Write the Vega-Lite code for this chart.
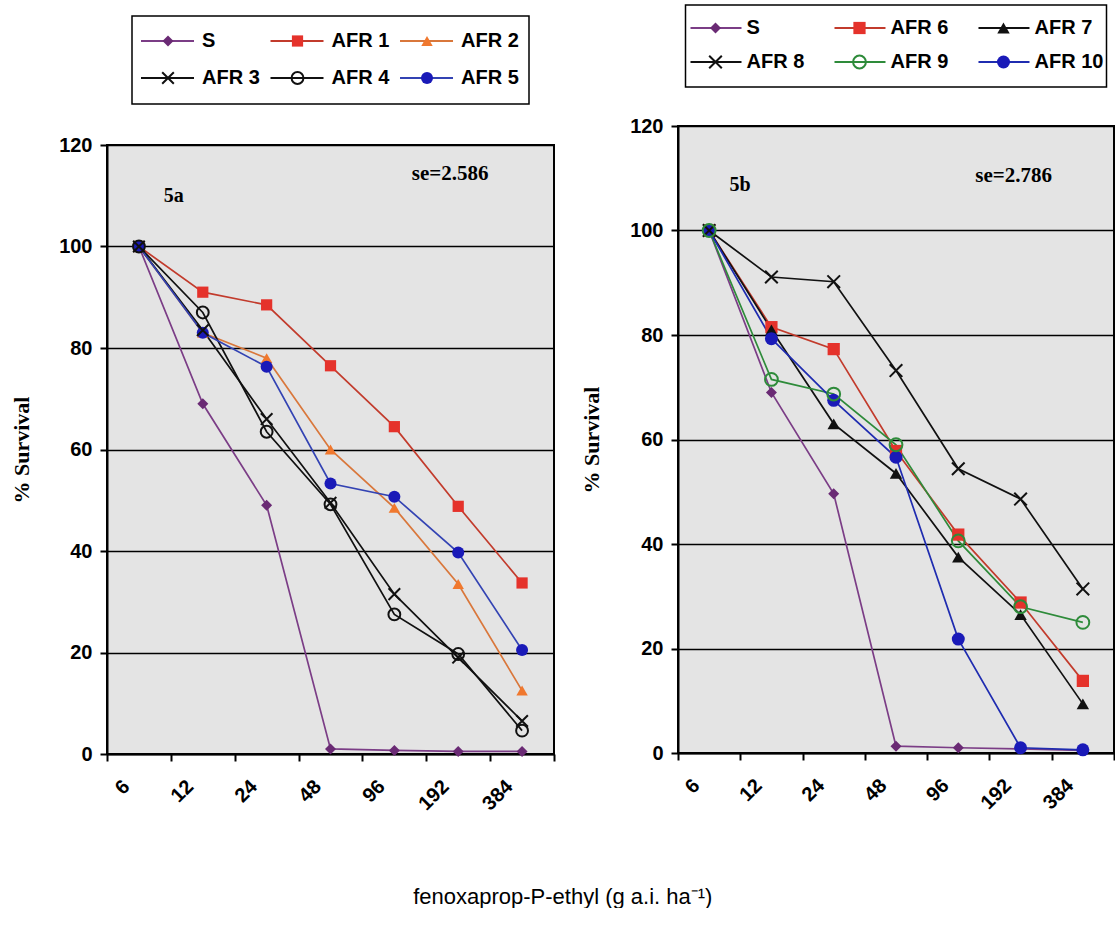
{
  "$schema": "https://vega.github.io/schema/vega-lite/v6.json",
  "padding": {"left": 9, "top": 4, "right": 0, "bottom": 0},
  "background": "white",
  "title": {"text": "fenoxaprop-P-ethyl (g a.i. ha⁻¹)", "orient": "bottom", "anchor": "middle", "offset": 72, "font": "Liberation Sans", "fontSize": 22, "fontWeight": "normal", "color": "black"},
  "datasets": {
    "a": [
      {"series": "S", "dose": "6", "value": 100}, {"series": "S", "dose": "12", "value": 69}, {"series": "S", "dose": "24", "value": 49}, {"series": "S", "dose": "48", "value": 1}, {"series": "S", "dose": "96", "value": 0.7}, {"series": "S", "dose": "192", "value": 0.5}, {"series": "S", "dose": "384", "value": 0.5},
      {"series": "AFR 1", "dose": "6", "value": 100}, {"series": "AFR 1", "dose": "12", "value": 91}, {"series": "AFR 1", "dose": "24", "value": 88.5}, {"series": "AFR 1", "dose": "48", "value": 76.5}, {"series": "AFR 1", "dose": "96", "value": 64.5}, {"series": "AFR 1", "dose": "192", "value": 48.8}, {"series": "AFR 1", "dose": "384", "value": 33.7},
      {"series": "AFR 2", "dose": "6", "value": 100}, {"series": "AFR 2", "dose": "12", "value": 83}, {"series": "AFR 2", "dose": "24", "value": 78}, {"series": "AFR 2", "dose": "48", "value": 60}, {"series": "AFR 2", "dose": "96", "value": 48.5}, {"series": "AFR 2", "dose": "192", "value": 33.5}, {"series": "AFR 2", "dose": "384", "value": 12.5},
      {"series": "AFR 3", "dose": "6", "value": 100}, {"series": "AFR 3", "dose": "12", "value": 83.5}, {"series": "AFR 3", "dose": "24", "value": 66}, {"series": "AFR 3", "dose": "48", "value": 49.5}, {"series": "AFR 3", "dose": "96", "value": 31.5}, {"series": "AFR 3", "dose": "192", "value": 19}, {"series": "AFR 3", "dose": "384", "value": 6.5},
      {"series": "AFR 4", "dose": "6", "value": 100}, {"series": "AFR 4", "dose": "12", "value": 87}, {"series": "AFR 4", "dose": "24", "value": 63.5}, {"series": "AFR 4", "dose": "48", "value": 49.2}, {"series": "AFR 4", "dose": "96", "value": 27.5}, {"series": "AFR 4", "dose": "192", "value": 19.7}, {"series": "AFR 4", "dose": "384", "value": 4.6},
      {"series": "AFR 5", "dose": "6", "value": 100}, {"series": "AFR 5", "dose": "12", "value": 83}, {"series": "AFR 5", "dose": "24", "value": 76.3}, {"series": "AFR 5", "dose": "48", "value": 53.3}, {"series": "AFR 5", "dose": "96", "value": 50.7}, {"series": "AFR 5", "dose": "192", "value": 39.7}, {"series": "AFR 5", "dose": "384", "value": 20.5}
    ],
    "b": [
      {"series": "S", "dose": "6", "value": 100}, {"series": "S", "dose": "12", "value": 69}, {"series": "S", "dose": "24", "value": 49.6}, {"series": "S", "dose": "48", "value": 1.3}, {"series": "S", "dose": "96", "value": 1}, {"series": "S", "dose": "192", "value": 0.8}, {"series": "S", "dose": "384", "value": 0.5},
      {"series": "AFR 6", "dose": "6", "value": 100}, {"series": "AFR 6", "dose": "12", "value": 81.5}, {"series": "AFR 6", "dose": "24", "value": 77.3}, {"series": "AFR 6", "dose": "48", "value": 57.8}, {"series": "AFR 6", "dose": "96", "value": 41.8}, {"series": "AFR 6", "dose": "192", "value": 28.8}, {"series": "AFR 6", "dose": "384", "value": 13.8},
      {"series": "AFR 7", "dose": "6", "value": 100}, {"series": "AFR 7", "dose": "12", "value": 81}, {"series": "AFR 7", "dose": "24", "value": 63}, {"series": "AFR 7", "dose": "48", "value": 53.5}, {"series": "AFR 7", "dose": "96", "value": 37.5}, {"series": "AFR 7", "dose": "192", "value": 26.5}, {"series": "AFR 7", "dose": "384", "value": 9.4},
      {"series": "AFR 8", "dose": "6", "value": 100}, {"series": "AFR 8", "dose": "12", "value": 91.1}, {"series": "AFR 8", "dose": "24", "value": 90.2}, {"series": "AFR 8", "dose": "48", "value": 73.2}, {"series": "AFR 8", "dose": "96", "value": 54.4}, {"series": "AFR 8", "dose": "192", "value": 48.6}, {"series": "AFR 8", "dose": "384", "value": 31.4},
      {"series": "AFR 9", "dose": "6", "value": 100}, {"series": "AFR 9", "dose": "12", "value": 71.5}, {"series": "AFR 9", "dose": "24", "value": 68.7}, {"series": "AFR 9", "dose": "48", "value": 59}, {"series": "AFR 9", "dose": "96", "value": 40.6}, {"series": "AFR 9", "dose": "192", "value": 28}, {"series": "AFR 9", "dose": "384", "value": 25},
      {"series": "AFR 10", "dose": "6", "value": 100}, {"series": "AFR 10", "dose": "12", "value": 79.3}, {"series": "AFR 10", "dose": "24", "value": 67.5}, {"series": "AFR 10", "dose": "48", "value": 56.6}, {"series": "AFR 10", "dose": "96", "value": 21.8}, {"series": "AFR 10", "dose": "192", "value": 1}, {"series": "AFR 10", "dose": "384", "value": 0.6}
    ],
    "legA": [
      {"series": "S", "col": 0, "row": 0}, {"series": "AFR 1", "col": 1, "row": 0}, {"series": "AFR 2", "col": 2, "row": 0},
      {"series": "AFR 3", "col": 0, "row": 1}, {"series": "AFR 4", "col": 1, "row": 1}, {"series": "AFR 5", "col": 2, "row": 1}
    ],
    "legB": [
      {"series": "S", "col": 0, "row": 0}, {"series": "AFR 6", "col": 1, "row": 0}, {"series": "AFR 7", "col": 2, "row": 0},
      {"series": "AFR 8", "col": 0, "row": 1}, {"series": "AFR 9", "col": 1, "row": 1}, {"series": "AFR 10", "col": 2, "row": 1}
    ]
  },
  "spacing": 23,
  "resolve": {"scale": {"x": "independent", "y": "independent"}},
  "hconcat": [
    {
      "bounds": "flush", "center": true, "spacing": 41,
      "resolve": {"scale": {"x": "independent", "y": "independent"}},
      "vconcat": [
        {
          "width": 397, "height": 99,
          "data": {"name": "legA"},
          "view": {"stroke": null},
          "encoding": {
            "x": {"field": "col", "type": "quantitative", "scale": {"domain": [-0.0695, 2.996], "nice": false, "zero": false}, "axis": null},
            "y": {"field": "row", "type": "quantitative", "scale": {"domain": [-0.973, 1.703], "nice": false, "zero": false, "reverse": true}, "axis": null}
          },
          "layer": [
            {"data": {"values": [{"x0": -0.0695, "x1": 2.996, "y0": -0.6757, "y1": 1.703}]}, "mark": {"type": "rect", "fill": "white", "stroke": "black", "strokeWidth": 1.5}, "encoding": {"x": {"field": "x0", "type": "quantitative"}, "x2": {"field": "x1"}, "y": {"field": "y0", "type": "quantitative"}, "y2": {"field": "y1"}}},
            {"mark": {"type": "rule", "x2Offset": 53, "strokeWidth": 1.8}, "encoding": {"x2": {"field": "col"}, "stroke": {"field": "series", "type": "nominal", "scale": {"domain": ["S","AFR 1","AFR 2","AFR 3","AFR 4","AFR 5","AFR 6","AFR 7","AFR 8","AFR 9","AFR 10"], "range": ["#7b3d86","#c23b2c","#d9773b","#111111","#111111","#3343b3","#c23b2c","#111111","#111111","#2e8b3a","#1f2cb0"]}, "legend": null}}},
            {"transform": [{"filter": {"field": "series", "oneOf": ["S","AFR 1","AFR 2","AFR 5","AFR 6","AFR 7","AFR 10"]}}], "mark": {"type": "point", "filled": true, "opacity": 1, "xOffset": 27},
             "encoding": {"color": {"field": "series", "type": "nominal", "scale": {"domain": ["S","AFR 1","AFR 2","AFR 3","AFR 4","AFR 5","AFR 6","AFR 7","AFR 8","AFR 9","AFR 10"], "range": ["#6a2a74","#e5322b","#f0782e","#111111","#111111","#1a1ab8","#e5322b","#111111","#111111","#2e8b3a","#1a1ab8"]}, "legend": null},
                          "shape": {"field": "series", "type": "nominal", "scale": {"domain": ["S","AFR 1","AFR 2","AFR 3","AFR 4","AFR 5","AFR 6","AFR 7","AFR 8","AFR 9","AFR 10"], "range": ["diamond","square","triangle-up","M-1,-1L1,1M-1,1L1,-1","circle","circle","square","triangle-up","M-1,-1L1,1M-1,1L1,-1","circle","circle"]}, "legend": null},
                          "size": {"field": "series", "type": "nominal", "scale": {"domain": ["S","AFR 1","AFR 2","AFR 3","AFR 4","AFR 5","AFR 6","AFR 7","AFR 8","AFR 9","AFR 10"], "range": [121,169,169,144,120,190,169,169,144,120,190]}, "legend": null}}},
            {"transform": [{"filter": {"field": "series", "oneOf": ["AFR 3","AFR 4","AFR 8","AFR 9"]}}], "mark": {"type": "point", "filled": false, "opacity": 1, "strokeWidth": 2, "xOffset": 27},
             "encoding": {"color": {"field": "series", "type": "nominal", "legend": null},
                          "shape": {"field": "series", "type": "nominal", "legend": null},
                          "size": {"field": "series", "type": "nominal", "legend": null}}},
            {"mark": {"type": "text", "xOffset": 61, "align": "left", "baseline": "middle", "font": "Liberation Sans", "fontWeight": "bold", "fontSize": 20, "color": "black"}, "encoding": {"text": {"field": "series"}}}
          ]
        },
        {
          "width": 447, "height": 609,
          "data": {"name": "a"},
          "view": {"stroke": "black", "strokeWidth": 2, "fill": "#e4e4e4"},
          "encoding": {
            "x": {"field": "dose", "type": "ordinal", "sort": ["6","12","24","48","96","192","384"], "bandPosition": 0.5, "scale": {"type": "band", "paddingInner": 0, "paddingOuter": 0}, "axis": {"title": null, "labelAngle": -45, "tickBand": "extent", "grid": false, "labelPadding": 15, "labelOffset": -20}},
            "y": {"field": "value", "type": "quantitative", "scale": {"domain": [0, 120], "nice": false}, "axis": {"values": [0,20,40,60,80,100,120], "title": "% Survival", "titlePadding": 25, "grid": true, "gridColor": "black", "gridWidth": 1.5, "gridOpacity": 1}}
          },
          "layer": [
            {"mark": {"type": "line", "strokeWidth": 1.7}, "encoding": {"stroke": {"field": "series", "type": "nominal", "legend": null}}},
            {"transform": [{"filter": {"field": "series", "oneOf": ["S","AFR 1","AFR 2","AFR 5","AFR 6","AFR 7","AFR 10"]}}], "mark": {"type": "point", "filled": true, "opacity": 1},
             "encoding": {"color": {"field": "series", "type": "nominal", "legend": null}, "shape": {"field": "series", "type": "nominal", "legend": null}, "size": {"field": "series", "type": "nominal", "legend": null}}},
            {"transform": [{"filter": {"field": "series", "oneOf": ["AFR 3","AFR 4","AFR 8","AFR 9"]}}], "mark": {"type": "point", "filled": false, "opacity": 1, "strokeWidth": 2},
             "encoding": {"color": {"field": "series", "type": "nominal", "legend": null}, "shape": {"field": "series", "type": "nominal", "legend": null}, "size": {"field": "series", "type": "nominal", "legend": null}}},
            {"data": {"values": [{"label": "5a", "dose": "12", "value": 110}]}, "mark": {"type": "text", "dx": -29, "font": "Liberation Serif", "fontWeight": "bold", "fontSize": 20, "color": "black", "baseline": "middle"}, "encoding": {"text": {"field": "label"}}},
            {"data": {"values": [{"label": "se=2.586", "dose": "192", "value": 114.3}]}, "mark": {"type": "text", "dx": -8, "font": "Liberation Serif", "fontWeight": "bold", "fontSize": 21, "color": "black", "baseline": "middle"}, "encoding": {"text": {"field": "label"}}}
          ]
        }
      ]
    },
    {
      "bounds": "flush", "center": true, "spacing": 39,
      "resolve": {"scale": {"x": "independent", "y": "independent"}},
      "vconcat": [
        {
          "width": 421, "height": 82,
          "data": {"name": "legB"},
          "view": {"stroke": "black", "strokeWidth": 1.5, "fill": "white"},
          "encoding": {
            "x": {"field": "col", "type": "quantitative", "scale": {"domain": [-0.0347, 2.889], "nice": false, "zero": false}, "axis": null},
            "y": {"field": "row", "type": "quantitative", "scale": {"domain": [-0.6765, 1.7353], "nice": false, "zero": false, "reverse": true}, "axis": null}
          },
          "layer": [
            {"mark": {"type": "rule", "x2Offset": 51, "strokeWidth": 1.8}, "encoding": {"x2": {"field": "col"}, "stroke": {"field": "series", "type": "nominal", "legend": null}}},
            {"transform": [{"filter": {"field": "series", "oneOf": ["S","AFR 1","AFR 2","AFR 5","AFR 6","AFR 7","AFR 10"]}}], "mark": {"type": "point", "filled": true, "opacity": 1, "xOffset": 25},
             "encoding": {"color": {"field": "series", "type": "nominal", "legend": null}, "shape": {"field": "series", "type": "nominal", "legend": null}, "size": {"field": "series", "type": "nominal", "legend": null}}},
            {"transform": [{"filter": {"field": "series", "oneOf": ["AFR 3","AFR 4","AFR 8","AFR 9"]}}], "mark": {"type": "point", "filled": false, "opacity": 1, "strokeWidth": 2, "xOffset": 25},
             "encoding": {"color": {"field": "series", "type": "nominal", "legend": null}, "shape": {"field": "series", "type": "nominal", "legend": null}, "size": {"field": "series", "type": "nominal", "legend": null}}},
            {"mark": {"type": "text", "xOffset": 56, "align": "left", "baseline": "middle", "font": "Liberation Sans", "fontWeight": "bold", "fontSize": 20, "color": "black"}, "encoding": {"text": {"field": "series"}}}
          ]
        },
        {
          "width": 436, "height": 627,
          "data": {"name": "b"},
          "view": {"stroke": "black", "strokeWidth": 2, "fill": "#e4e4e4"},
          "encoding": {
            "x": {"field": "dose", "type": "ordinal", "sort": ["6","12","24","48","96","192","384"], "bandPosition": 0.5, "scale": {"type": "band", "paddingInner": 0, "paddingOuter": 0}, "axis": {"title": null, "labelAngle": -45, "tickBand": "extent", "grid": false, "labelPadding": 15, "labelOffset": -20}},
            "y": {"field": "value", "type": "quantitative", "scale": {"domain": [0, 120], "nice": false}, "axis": {"values": [0,20,40,60,80,100,120], "title": "% Survival", "titlePadding": 26, "grid": true, "gridColor": "black", "gridWidth": 1.5, "gridOpacity": 1}}
          },
          "layer": [
            {"mark": {"type": "line", "strokeWidth": 1.7}, "encoding": {"stroke": {"field": "series", "type": "nominal", "legend": null}}},
            {"transform": [{"filter": {"field": "series", "oneOf": ["S","AFR 1","AFR 2","AFR 5","AFR 6","AFR 7","AFR 10"]}}], "mark": {"type": "point", "filled": true, "opacity": 1},
             "encoding": {"color": {"field": "series", "type": "nominal", "legend": null}, "shape": {"field": "series", "type": "nominal", "legend": null}, "size": {"field": "series", "type": "nominal", "legend": null}}},
            {"transform": [{"filter": {"field": "series", "oneOf": ["AFR 3","AFR 4","AFR 8","AFR 9"]}}], "mark": {"type": "point", "filled": false, "opacity": 1, "strokeWidth": 2},
             "encoding": {"color": {"field": "series", "type": "nominal", "legend": null}, "shape": {"field": "series", "type": "nominal", "legend": null}, "size": {"field": "series", "type": "nominal", "legend": null}}},
            {"data": {"values": [{"label": "5b", "dose": "6", "value": 108.7}]}, "mark": {"type": "text", "dx": 31, "font": "Liberation Serif", "fontWeight": "bold", "fontSize": 20, "color": "black", "baseline": "middle"}, "encoding": {"text": {"field": "label"}}},
            {"data": {"values": [{"label": "se=2.786", "dose": "192", "value": 110.4}]}, "mark": {"type": "text", "dx": -7, "font": "Liberation Serif", "fontWeight": "bold", "fontSize": 21, "color": "black", "baseline": "middle"}, "encoding": {"text": {"field": "label"}}}
          ]
        }
      ]
    }
  ],
  "config": {
    "font": "Liberation Sans",
    "legend": {"disable": true},
    "axis": {"labelFont": "Liberation Sans", "labelFontWeight": "bold", "labelFontSize": 20, "labelColor": "black", "domainColor": "black", "domainWidth": 2, "tickColor": "black", "tickWidth": 2, "tickSize": 7, "titleColor": "black"},
    "axisY": {"labelPadding": 8, "titleFont": "Liberation Serif", "titleFontSize": 22, "titleFontWeight": "bold"}
  }
}
